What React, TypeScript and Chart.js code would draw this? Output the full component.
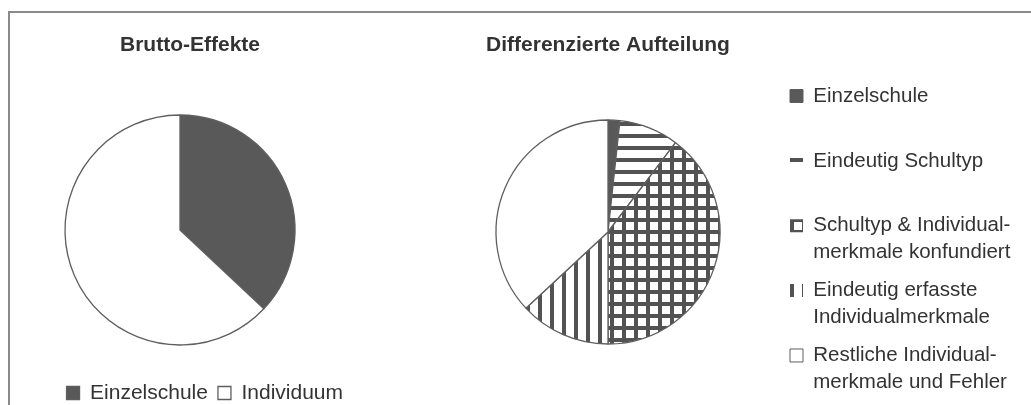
import React, { useEffect, useRef } from "react";
import { Chart, registerables } from "chart.js";

Chart.register(...registerables);

// ---- data ----
const chartTitles = ["Brutto-Effekte", "Differenzierte Aufteilung"];
const grossLabels = ["Einzelschule", "Individuum"];
const grossValues = [37, 63];
const diffLabels: string[][] = [
  ["Einzelschule"],
  ["Eindeutig Schultyp"],
  ["Schultyp & Individual-", "merkmale konfundiert"],
  ["Eindeutig erfasste", "Individualmerkmale"],
  ["Restliche Individual-", "merkmale und Fehler"],
];
const diffValues = [1.7, 8.6, 39.7, 13.1, 36.9];

// ---- styles ----
const FONT = "'Liberation Sans', Arial, Helvetica, sans-serif";
const TEXT = "#333333";
const DARK = "#595959";
const EDGE = "#5e5e5e";
const HATCH = "#525252";

function makePattern(kind: "h" | "v" | "grid"): CanvasPattern | string {
  const size = 12;
  const t = 4;
  const c = document.createElement("canvas");
  c.width = size;
  c.height = size;
  const g = c.getContext("2d");
  if (!g) return "#fff";
  g.fillStyle = "#ffffff";
  g.fillRect(0, 0, size, size);
  g.fillStyle = HATCH;
  if (kind !== "v") g.fillRect(0, 0, size, t);
  if (kind !== "h") g.fillRect(0, 0, t, size);
  return g.createPattern(c, "repeat") || "#fff";
}

export default function App() {
  const leftRef = useRef<HTMLCanvasElement>(null);
  const rightRef = useRef<HTMLCanvasElement>(null);

  useEffect(() => {
    const leftChart = new Chart(leftRef.current as HTMLCanvasElement, {
      type: "pie",
      data: {
        labels: grossLabels,
        datasets: [
          {
            data: grossValues,
            backgroundColor: [DARK, "#ffffff"],
            borderColor: EDGE,
            borderWidth: 1.3,
          },
        ],
      },
      options: {
        responsive: false,
        animation: false,
        radius: 115,
        layout: { padding: { left: 15, right: 0, top: 0, bottom: 0.5 } },
        plugins: {
          title: {
            display: true,
            text: chartTitles[0],
            color: TEXT,
            font: { family: FONT, size: 21, weight: "bold", lineHeight: 1.2 },
            padding: { top: 18.4, bottom: 29.9 },
          },
          subtitle: {
            display: true,
            text: "",
            position: "right",
            font: { family: FONT, size: 20, lineHeight: 1 },
            padding: 0,
          },
          legend: {
            position: "bottom",
            align: "end",
            labels: {
              boxWidth: 13,
              boxHeight: 13,
              padding: 10,
              color: TEXT,
              font: { family: FONT, size: 21 },
            },
          },
          tooltip: { enabled: false },
        },
      },
    } as any);

    const fills = [DARK, makePattern("h"), makePattern("grid"), makePattern("v"), "#ffffff"];

    const rightChart = new Chart(rightRef.current as HTMLCanvasElement, {
      type: "pie",
      data: {
        labels: diffLabels,
        datasets: [
          {
            data: diffValues,
            backgroundColor: fills,
            borderColor: EDGE,
            borderWidth: 1.3,
          },
        ],
      },
      options: {
        responsive: false,
        animation: false,
        radius: 112,
        layout: { padding: { left: 6.75, right: 15.75, top: 0, bottom: 1.3 } },
        plugins: {
          title: {
            display: true,
            fullSize: false,
            text: chartTitles[1],
            color: TEXT,
            font: { family: FONT, size: 21, weight: "bold", lineHeight: 0.6 },
            padding: { top: 24.7, bottom: 0 },
          },
          legend: {
            position: "right",
            align: "start",
            maxWidth: 236,
            title: {
              display: true,
              text: "",
              font: { family: FONT, size: 10, lineHeight: 1 },
              padding: { top: 51, bottom: 0 },
            },
            labels: {
              boxWidth: 13,
              boxHeight: 13,
              padding: 10.75,
              color: TEXT,
              font: { family: FONT, size: 20.5, lineHeight: 1.32 },
              generateLabels: (chart: any) => {
                const ds = chart.data.datasets[0];
                return chart.data.labels.map((label: string[], i: number) => {
                  const fill = ds.backgroundColor[i];
                  const patterned = typeof fill !== "string";
                  return {
                    text: label.length < 2 ? [...label, ""] : label,
                    fillStyle: fill,
                    strokeStyle: patterned ? "rgba(0,0,0,0)" : ds.borderColor,
                    lineWidth: patterned ? 0 : 1,
                    fontColor: TEXT,
                    hidden: false,
                    index: i,
                  };
                });
              },
            },
          },
          tooltip: { enabled: false },
        },
      },
    } as any);

    return () => {
      leftChart.destroy();
      rightChart.destroy();
    };
  }, []);

  return (
    <div
      style={{
        position: "fixed",
        left: 0,
        top: 0,
        width: 1031,
        height: 405,
        overflow: "hidden",
        background: "#ffffff",
      }}
    >
      <div
        style={{
          position: "absolute",
          left: 8,
          top: 11,
          width: 1100,
          height: 500,
          borderTop: "2px solid #8a8a8a",
          borderLeft: "2px solid #8a8a8a",
        }}
      />
      <canvas
        ref={leftRef}
        width={341}
        height={400}
        style={{ position: "absolute", left: 12, top: 14 }}
      />
      <canvas
        ref={rightRef}
        width={601}
        height={400}
        style={{ position: "absolute", left: 430, top: 14 }}
      />
    </div>
  );
}
